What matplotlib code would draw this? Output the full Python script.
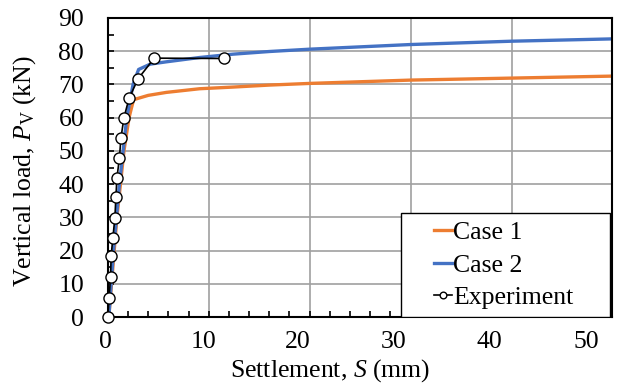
import matplotlib.pyplot as plt
from matplotlib.ticker import MultipleLocator
from matplotlib.transforms import ScaledTranslation
from matplotlib.patches import Rectangle

plt.rcParams['font.family'] = ['Liberation Serif', 'DejaVu Serif']
plt.rcParams['mathtext.fontset'] = 'custom'
plt.rcParams['mathtext.rm'] = 'Liberation Serif'
plt.rcParams['mathtext.it'] = 'Liberation Serif:italic'

# settlement (mm) / load (kN)
case1_s = [0.1, 0.5, 0.9, 1.6, 2.1, 2.55, 4.0, 5.8, 9.1, 12.4, 16, 20, 30, 40, 50]
case1_p = [0, 15, 30, 50, 60, 65.4, 66.7, 67.6, 68.7, 69.2, 69.8, 70.3, 71.3, 71.9, 72.5]

case2_s = [0.1, 0.56, 1.15, 1.88, 2.5, 3.05, 4.2, 5.8, 9.1, 12.4, 16, 20, 30, 40, 50]
case2_p = [0, 20, 40, 60, 70, 74.5, 76.1, 76.8, 78.1, 79.1, 79.9, 80.6, 82.0, 83.0, 83.7]

exp_s = [0, 0.13, 0.27, 0.33, 0.5, 0.7, 0.8, 0.9, 1.15, 1.3, 1.6, 2.1, 3.0, 4.6, 11.5]
exp_p = [0, 5.7, 12.2, 18.5, 23.8, 29.9, 36, 41.8, 47.9, 53.9, 60, 65.8, 71.7, 77.9, 77.8]

FS = 18.5

fig = plt.figure(figsize=(6.38, 3.9), dpi=100)
ax = fig.add_axes([0.169, 0.187, 0.791, 0.767])

ax.plot(case1_s, case1_p, color='#ED7D31', lw=2.4, label='Case 1')
ax.plot(case2_s, case2_p, color='#4472C4', lw=2.4, label='Case 2')
ax.plot(exp_s, exp_p, color='black', lw=1.2, marker='o', ms=8,
        mfc='white', mec='black', mew=1.0, label='Experiment', zorder=5,
        clip_on=False)

ax.set_xlim(0, 50)
ax.set_ylim(0, 90)
ax.xaxis.set_major_locator(MultipleLocator(10))
ax.xaxis.set_minor_locator(MultipleLocator(2))
ax.yaxis.set_major_locator(MultipleLocator(10))
ax.yaxis.set_minor_locator(MultipleLocator(5))
ax.grid(True, which='major', color='#A0A0A0', lw=1.2)
ax.set_axisbelow(True)
ax.tick_params(which='both', direction='in', length=4, width=1.2, labelsize=FS)
ax.tick_params(axis='y', pad=17)
ax.tick_params(axis='x', pad=10)
for sp in ax.spines.values():
    sp.set_linewidth(1.5)

# the x tick labels in the original sit a bit left of their gridlines (px)
shifts = {0: -2, 10: -5, 20: -12, 30: -17, 40: -22, 50: -26}
locs = ax.xaxis.get_majorticklocs()
for loc, tick in zip(locs, ax.xaxis.get_major_ticks(len(locs))):
    dx = shifts.get(int(round(loc)), 0)
    lab = tick.label1
    lab.set_transform(lab.get_transform() + ScaledTranslation(dx / 100, 0, fig.dpi_scale_trans))

ax.set_xlabel('Settlement, $S$ (mm)', fontsize=FS)
ax.set_ylabel('Vertical load, $P_\\mathrm{V}$ (kN)', fontsize=FS)
ax.xaxis.set_label_coords(0.44, -0.133)
ax.yaxis.set_label_coords(-0.139, 0.488)

# legend box (wider than its contents, as in the original)
box = Rectangle((0.581, 0.0), 0.414, 0.348, transform=ax.transAxes,
                facecolor='white', edgecolor='black', lw=1.0, zorder=6)
ax.add_patch(box)
leg = ax.legend(loc='center', bbox_to_anchor=(0.785, 0.174), fontsize=FS,
                frameon=False, handlelength=0.7, handletextpad=0.05,
                borderpad=0.1, labelspacing=0.38, markerscale=0.6)
leg.set_zorder(7)

fig.savefig('out.png', dpi=100)
